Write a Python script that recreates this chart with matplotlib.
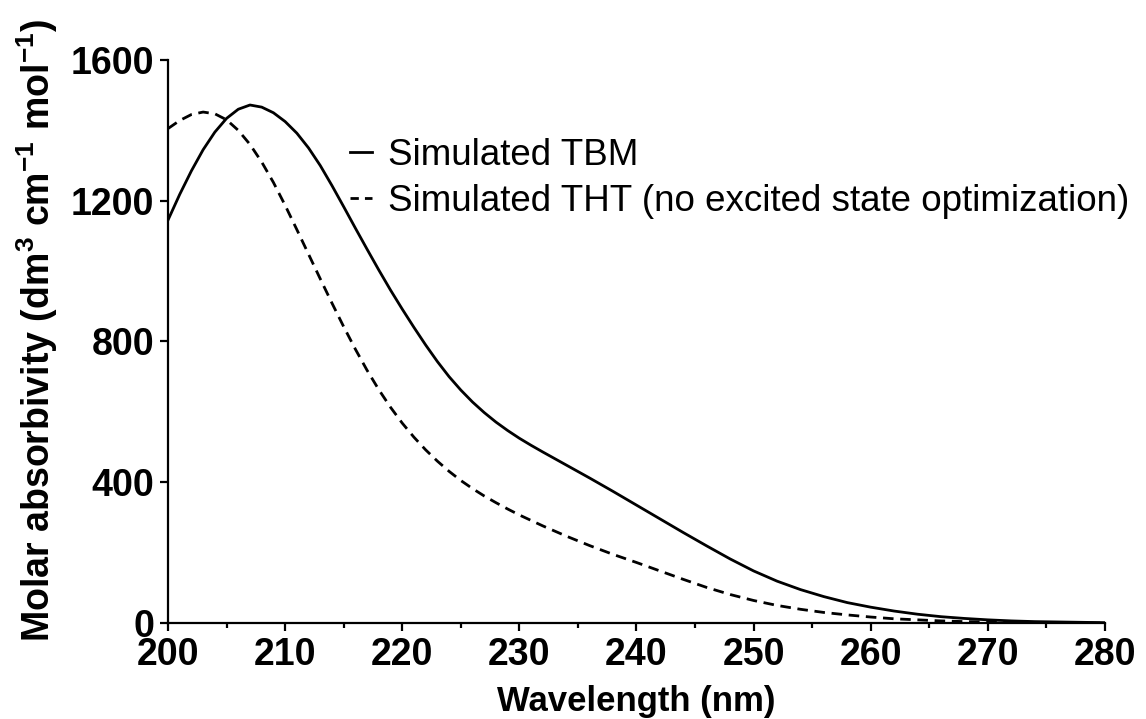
import matplotlib
matplotlib.use("Agg")
import matplotlib.pyplot as plt
from matplotlib.ticker import MultipleLocator

# Simulated absorption spectra (molar absorbivity vs wavelength)
wavelength_tbm = [200, 201, 202, 203, 204, 205, 206, 207, 208, 209, 210, 211, 212, 213,
                  214, 215, 216, 217, 218, 219, 220, 221, 222, 223, 224, 225, 226, 227,
                  228, 229, 230, 231, 232, 234, 236, 238, 240, 242, 244, 246, 248, 250,
                  252, 254, 256, 258, 260, 262, 264, 266, 268, 270, 272, 274, 276, 278, 280]
absorb_tbm = [1145, 1218, 1285, 1345, 1395, 1434, 1460, 1472, 1466, 1450, 1425, 1392, 1350, 1300,
              1243, 1183, 1122, 1062, 1003, 946, 892, 840, 790, 743, 700, 662, 628, 598,
              571, 547, 525, 505, 486, 449, 412, 374, 335, 296, 257, 219, 182, 148,
              119, 95, 75, 58, 45, 34, 25, 18, 13, 9, 6, 4, 3, 2, 1]

wavelength_tht = [200, 201, 202, 203, 204, 205, 206, 207, 208, 209, 210, 211, 212, 213,
                  214, 215, 216, 217, 218, 219, 220, 221, 222, 223, 224, 225, 226, 227,
                  228, 229, 230, 232, 234, 236, 238, 240, 242, 244, 246, 248, 250, 252,
                  254, 256, 258, 260, 262, 264, 266, 268, 270, 272, 274, 276, 278, 280]
absorb_tht = [1405, 1428, 1445, 1452, 1447, 1430, 1400, 1360, 1310, 1252, 1187, 1118, 1048, 978,
              909, 842, 778, 718, 663, 613, 568, 528, 492, 460, 431, 405, 382, 361,
              342, 324, 307, 276, 247, 220, 195, 172, 148, 124, 101, 81, 64, 50,
              39, 30, 23, 17, 12, 9, 6, 4, 3, 2, 1, 1, 0, 0]

labels = ["Simulated TBM", "Simulated THT (no excited state optimization)"]
x_ticks = [200, 210, 220, 230, 240, 250, 260, 270, 280]
y_ticks = [0, 400, 800, 1200, 1600]

plt.rcParams['font.family'] = ['Liberation Sans', 'DejaVu Sans']
plt.rcParams['mathtext.fontset'] = 'custom'
plt.rcParams['mathtext.rm'] = 'Liberation Sans:bold'
plt.rcParams['mathtext.bf'] = 'Liberation Sans:bold'
plt.rcParams['mathtext.default'] = 'rm'

fig = plt.figure(figsize=(11.46, 7.19), dpi=100)
ax = fig.add_axes([0.1466, 0.1335, 0.8176, 0.7831])

ax.plot(wavelength_tbm, absorb_tbm, color='black', lw=2.0, label=labels[0])
ax.plot(wavelength_tht, absorb_tht, color='black', lw=2.0, dashes=(3.8, 2.4), label=labels[1])

ax.set_xlim(200, 280)
ax.set_ylim(0, 1600)
ax.set_xticks(x_ticks)
ax.set_yticks(y_ticks)
ax.xaxis.set_minor_locator(MultipleLocator(5))

for side in ['top', 'right']:
    ax.spines[side].set_visible(False)
for side in ['left', 'bottom']:
    ax.spines[side].set_linewidth(1.6)

ax.tick_params(axis='both', which='major', length=6, width=1.6, labelsize=27)
ax.tick_params(axis='x', which='major', pad=4)
ax.tick_params(axis='y', which='major', pad=4)
ax.tick_params(axis='x', which='minor', length=3.5, width=1.6)
for lab in ax.get_xticklabels() + ax.get_yticklabels():
    lab.set_fontweight('bold')

ax.set_xlabel("Wavelength (nm)", fontsize=25, fontweight='bold', labelpad=9)
ax.set_ylabel(r"Molar absorbivity (dm$^{3}$ cm$^{-1}$ mol$^{-1}$)",
              fontsize=27, fontweight='bold', labelpad=8)
ax.yaxis.label.set_y(0.52)

leg = ax.legend(loc='upper left', bbox_to_anchor=(0.194, 0.861), frameon=False,
                fontsize=26.5, handlelength=0.6, handletextpad=0.45,
                labelspacing=0.3, borderaxespad=0, borderpad=0)
leg_lines = leg.get_lines()
for h in leg_lines:
    h.set_linewidth(2.0)
leg_lines[1].set_dashes((3.0, 2.2))

fig.savefig("out.png", dpi=100)
